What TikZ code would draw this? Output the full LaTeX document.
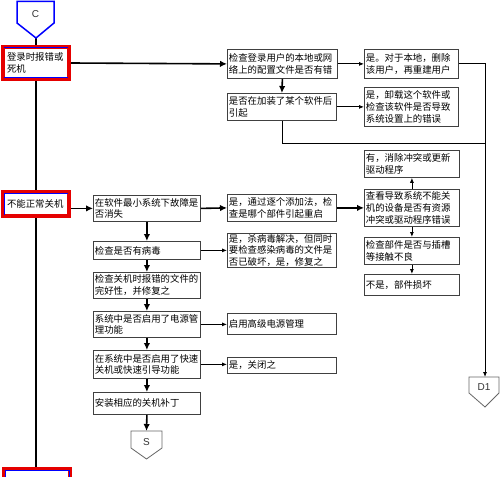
\documentclass[tikz,border=0pt]{standalone}
\usepackage{fontspec}
\setmainfont{Liberation Sans}
\newfontfamily\cjk{Noto Sans CJK SC}
\usetikzlibrary{arrows.meta}
\begin{document}
\begin{tikzpicture}[x=1pt,y=-1pt,
 box/.style={draw=black!75, line width=0.8pt, fill=white, anchor=north west, align=left,
   inner xsep=1.5pt, inner ysep=0.5pt, font=\cjk\fontsize{9.4}{11.8}\selectfont},
 redbox/.style={draw=red!90!black, line width=4pt, fill=white, align=left, inner xsep=4pt,
   text width=58pt, font=\cjk\fontsize{9.4}{11.8}\selectfont},
 bluein/.style={draw=blue, line width=1pt},
 arrbold/.style={line width=1.6pt, -{Latex[length=7pt,width=6.5pt]}},
 arrthin/.style={line width=0.8pt, -{Latex[length=5pt,width=4pt]}},
 plainline/.style={line width=0.8pt},
 conn/.style={draw=black!60, line width=0.8pt, fill=white},
 connlabel/.style={font=\fontsize{10}{12}\selectfont, text=black!80},
]
\useasboundingbox (0,0) rectangle (500,476);
\clip (0,0) rectangle (500,476);
\fill[white] (0,0) rectangle (500,476);

% off-page connector C
\coordinate (Cpt) at (36,38);
\coordinate (bottom) at (36,476);
\draw[line width=1.6pt] (Cpt) -- (bottom);
\draw[draw=blue, line width=1.5pt, fill=white] (17,1.5) -- (54,1.5) -- (54,23) -- (Cpt) -- (17,23) -- cycle;
\node[connlabel] (C) at (35.5,14) {C};

% red highlighted boxes
\node[redbox, minimum height=32pt] (r1) at (36,63) {登录时报错或\\死机};
\draw[bluein] ([shift={(3,3)}]r1.north west) -- ([shift={(-3,3)}]r1.north east);
\draw[bluein] ([shift={(3,-3)}]r1.south west) -- ([shift={(-3,-3)}]r1.south east);
\node[redbox, minimum height=24pt] (r2) at (36,204) {不能正常关机};
\draw[bluein] ([shift={(-3,3)}]r2.north east) -- ([shift={(3,3)}]r2.north west) -- ([shift={(3,-3)}]r2.south west);
\node[redbox, minimum height=24pt] (r3) at (37,481) {};
\draw[bluein] ([shift={(3,4)}]r3.south west) -- ([shift={(3,3)}]r3.north west) -- ([shift={(-3,3)}]r3.north east) -- ([shift={(-3,4)}]r3.south east);

% row 1
\node[box, text width=107pt, minimum height=29pt] (b1) at (227,49) {检查登录用户的本地或网\\络上的配置文件是否有错};
\node[box, text width=91pt, minimum height=29pt] (y1) at (364,49) {是。对于本地，删除\\该用户，再重建用户};
\node[box, text width=106pt, minimum height=27pt] (b2) at (227,93) {是否在加装了某个软件后\\引起};
\node[box, text width=91pt, minimum height=39pt] (y2) at (364,87) {是，卸载这个软件或\\检查该软件是否导致\\系统设置上的错误};

% D1 connector
\coordinate (D1top) at (485,377);
\coordinate (j) at (485,143);
\draw[conn] (469,377) -- (499,377) -- (499,393) -- (485,407) -- (469,393) -- cycle;
\node[connlabel] (D1) at (484,387) {D1};

\draw[arrbold] (r1.east) -- (b1.west);
\draw[arrthin] (b1.east) -- (y1.west);
\draw[arrbold] (b1.south) -- (b2.north);
\draw[arrthin] (b2.east) -- (b2.east -| y2.west);
\draw[arrthin] (y1.east) -| (D1top);
\draw[plainline] (b2.south) |- (j);

% row 2
\node[box, text width=104pt, minimum height=26pt] (m1) at (93,195) {在软件最小系统下故障是\\否消失};
\node[box, text width=106pt, minimum height=27pt] (m2) at (227,194) {是，通过逐个添加法，检\\查是哪个部件引起重启};
\node[box, text width=92pt, minimum height=37pt] (n1) at (364,189) {查看导致系统不能关\\机的设备是否有资源\\冲突或驱动程序错误};
\node[box, text width=92pt, minimum height=27pt] (n0) at (364,150) {有，消除冲突或更新\\驱动程序};
\node[box, text width=92pt, minimum height=27pt] (n2) at (364,237) {检查部件是否与插槽\\等接触不良};
\node[box, text width=92pt, minimum height=21pt] (n3) at (364,274) {不是，部件损坏};
\node[box, text width=104pt, minimum height=18pt] (v1) at (93,241) {检查是否有病毒};
\node[box, text width=106pt, minimum height=34pt] (v1y) at (227,233) {是，杀病毒解决，但同时\\要检查感染病毒的文件是\\否已破坏，是，修复之};
\node[box, text width=104pt, minimum height=26pt] (f1) at (93,272) {检查关机时报错的文件的\\完好性，并修复之};
\node[box, text width=104pt, minimum height=26pt] (p1) at (93,311) {系统中是否启用了电源管\\理功能};
\node[box, text width=106pt, minimum height=21pt] (p1y) at (227,313) {启用高级电源管理};
\node[box, text width=104pt, minimum height=28pt] (q1) at (93,350) {在系统中是否启用了快速\\关机或快速引导功能};
\node[box, text width=106pt, minimum height=16pt] (q1y) at (227,357) {是，关闭之};
\node[box, text width=104pt, minimum height=22pt] (i1) at (93,392) {安装相应的关机补丁};

% S connector
\coordinate (Stop) at (146.5,431);
\draw[conn] (131,431) -- (162,431) -- (162,448) -- (146.5,459) -- (131,448) -- cycle;
\node[connlabel] (S) at (146.5,442) {S};

\draw[arrbold] (r2.east |- m1.west) -- (m1.west);
\draw[arrbold] (m1.east) -- (m2.west);
\draw[arrbold] (m2.east) -- (m2.east -| n1.west);
\draw[arrthin] (n1.north) -- (n0.south);
\draw[arrthin] (n1.south) -- (n2.north);
\draw[arrthin] (n2.south) -- (n3.north);
\draw[arrbold] (m1.south) -- (v1.north);
\draw[arrthin] (v1.east) -- (v1.east -| v1y.west);
\draw[arrbold] (v1.south) -- (f1.north);
\draw[arrbold] (f1.south) -- (p1.north);
\draw[arrthin] (p1.east) -- (p1.east -| p1y.west);
\draw[arrbold] (p1.south) -- (q1.north);
\draw[arrthin] (q1.east) -- (q1.east -| q1y.west);
\draw[arrbold] (q1.south) -- (i1.north);
\draw[arrbold] (i1.south) -- (Stop);
\end{tikzpicture}
\end{document}
